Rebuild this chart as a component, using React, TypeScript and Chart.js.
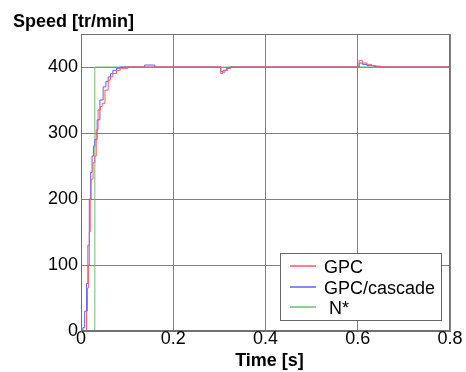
import React, { useEffect, useRef } from "react";
import { Chart, registerables } from "chart.js";

Chart.register(...registerables);

const gpcTime = [0, 0.008, 0.012, 0.014, 0.016, 0.018, 0.020, 0.022, 0.026, 0.030, 0.033, 0.037, 0.042, 0.046, 0.052, 0.059, 0.064, 0.069, 0.077, 0.085, 0.102, 0.3, 0.303, 0.307, 0.312, 0.318, 0.325, 0.6, 0.603, 0.61, 0.62, 0.63, 0.64, 0.65, 0.8];
const gpcSpeed = [0, 0, 30, 65, 100, 150, 200, 230, 255, 265, 305, 335, 340, 345, 365, 380, 385, 390, 395, 398, 400, 400, 390, 392, 395, 398, 400, 400, 410, 406, 404, 402, 401, 400, 400];

const cascTime = [0, 0.004, 0.008, 0.012, 0.015, 0.018, 0.021, 0.024, 0.027, 0.030, 0.035, 0.041, 0.048, 0.054, 0.059, 0.064, 0.069, 0.077, 0.085, 0.135, 0.138, 0.158, 0.160, 0.3, 0.303, 0.308, 0.315, 0.322, 0.6, 0.603, 0.61, 0.62, 0.635, 0.65, 0.8];
const cascSpeed = [0, 5, 30, 72, 130, 200, 240, 265, 280, 290, 320, 350, 370, 378, 385, 390, 395, 398, 400, 400, 403, 403, 400, 400, 393, 395, 398, 400, 400, 406, 404, 402, 401, 400, 400];

const refTime = [0, 0.030, 0.030, 0.8];
const refSpeed = [0, 0, 400, 400];

const xTicks = [0, 0.2, 0.4, 0.6, 0.8];
const yTicks = [0, 100, 200, 300, 400];

const seriesNames = ["GPC", "GPC/cascade", "N*"];
const seriesColors = ["rgb(255,90,90)", "rgb(95,95,255)", "rgb(110,190,110)"];

const toPoints = (t: number[], v: number[]) => t.map((x, i) => ({ x, y: v[i] }));

const FONT = "'Liberation Sans', Arial, sans-serif";

const overlayPlugin = {
  id: "overlay",
  afterDatasetsDraw(chart: any) {
    const ctx = chart.ctx as CanvasRenderingContext2D;
    const a = chart.chartArea;
    ctx.save();
    // frame
    ctx.strokeStyle = "#707070";
    ctx.lineWidth = 1;
    ctx.strokeRect(a.left + 0.5, a.top + 0.5, a.right - a.left - 1, a.bottom - a.top - 1);
    // titles
    ctx.fillStyle = "#000";
    ctx.font = `bold 18px ${FONT}`;
    ctx.textBaseline = "alphabetic";
    ctx.textAlign = "left";
    ctx.fillText("Speed [tr/min]", 13, 27);
    ctx.textAlign = "center";
    ctx.fillText("Time [s]", (a.left + a.right) / 2 + 4, 366);
    // legend
    const lx = a.right - 170, ly = a.bottom - 78, lw = 161, lh = 67;
    ctx.fillStyle = "#fff";
    ctx.fillRect(lx, ly, lw, lh);
    ctx.strokeStyle = "#666";
    ctx.lineWidth = 1;
    ctx.strokeRect(lx + 0.5, ly + 0.5, lw, lh);
    ctx.font = `18px ${FONT}`;
    ctx.textAlign = "left";
    ctx.textBaseline = "middle";
    const rows = [ly + 13, ly + 34, ly + 54];
    seriesNames.forEach((name, i) => {
      ctx.strokeStyle = seriesColors[i];
      ctx.lineWidth = 1.5;
      ctx.beginPath();
      ctx.moveTo(lx + 10, rows[i]);
      ctx.lineTo(lx + 36, rows[i]);
      ctx.stroke();
      ctx.fillStyle = "#000";
      ctx.fillText(i === 2 ? " " + name : name, lx + 44, rows[i] + 2);
    });
    ctx.restore();
  },
};

export default function App() {
  const ref = useRef<HTMLCanvasElement | null>(null);
  useEffect(() => {
    if (!ref.current) return;
    const chart = new Chart(ref.current, {
      type: "line",
      data: {
        datasets: [
          { label: seriesNames[0], data: toPoints(gpcTime, gpcSpeed), borderColor: seriesColors[0], borderWidth: 1, pointRadius: 0, stepped: true, fill: false },
          { label: seriesNames[1], data: toPoints(cascTime, cascSpeed), borderColor: seriesColors[1], borderWidth: 1, pointRadius: 0, stepped: true, fill: false },
          { label: seriesNames[2], data: toPoints(refTime, refSpeed), borderColor: seriesColors[2], borderWidth: 1, pointRadius: 0, fill: false },
        ],
      },
      plugins: [overlayPlugin],
      options: {
        animation: false,
        responsive: false,
        maintainAspectRatio: false,
        layout: { padding: { top: 34, right: 16, left: 0, bottom: 0 } },
        plugins: { legend: { display: false }, tooltip: { enabled: false }, title: { display: false } },
        scales: {
          x: {
            type: "linear",
            min: 0,
            max: 0.8,
            afterBuildTicks: (s: any) => { s.ticks = xTicks.map((v) => ({ value: v })); },
            afterFit: (s: any) => { s.height = 41; },
            ticks: { color: "#000", font: { family: FONT, size: 18 }, padding: -3, maxRotation: 0, callback: (v: any) => String(v) },
            grid: { color: "#808080", drawTicks: false },
            border: { color: "#707070" },
          },
          y: {
            type: "linear",
            min: 0,
            max: 450,
            afterBuildTicks: (s: any) => { s.ticks = yTicks.map((v) => ({ value: v })); },
            afterFit: (s: any) => { s.width = 81; },
            ticks: { color: "#000", font: { family: FONT, size: 18 }, padding: 3 },
            grid: { color: "#808080", drawTicks: false },
            border: { color: "#707070" },
          },
        },
      },
    } as any);
    return () => chart.destroy();
  }, []);
  return (
    <div style={{ position: "fixed", left: 0, top: 0, width: 466, height: 372, background: "#fff" }}>
      <canvas ref={ref} width={466} height={372} style={{ width: 466, height: 372, display: "block" }} />
    </div>
  );
}
